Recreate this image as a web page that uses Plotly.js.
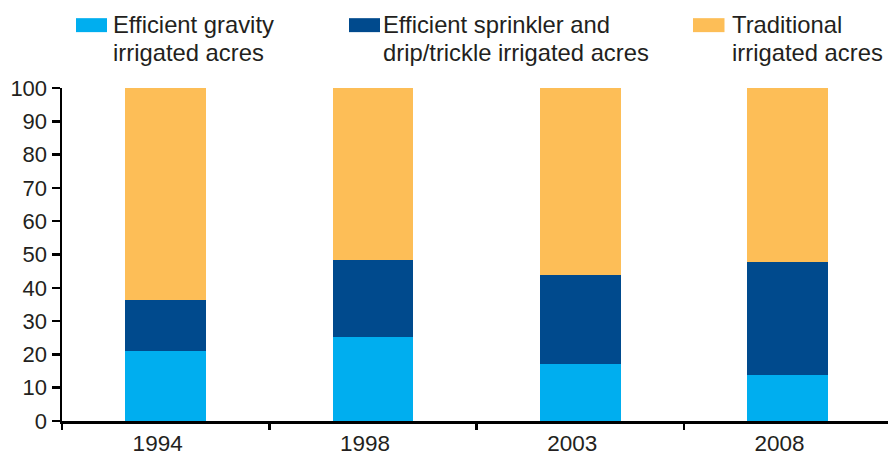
<!DOCTYPE html>
<html>
<head>
<meta charset="utf-8">
<script src="https://cdn.plot.ly/plotly-3.0.1.min.js"></script>
<style>
  html, body { margin: 0; padding: 0; background: #ffffff; }
  #chart { width: 888px; height: 454px; }
</style>
</head>
<body>
<div id="chart"></div>
<script>
// ---- Data ----
const years = ['1994', '1998', '2003', '2008'];
const gravity = [21.1, 25.3, 17.0, 13.9];          // Efficient gravity irrigated acres (%)
const sprinkler = [15.3, 23.1, 26.7, 33.9];        // Efficient sprinkler and drip/trickle irrigated acres (%)
const traditional = [63.6, 51.6, 56.3, 52.2];      // Traditional irrigated acres (%)
const seriesNames = [
  ['Efficient gravity', 'irrigated acres'],
  ['Efficient sprinkler and', 'drip/trickle irrigated acres'],
  ['Traditional', 'irrigated acres']
];
const yTicks = [0, 10, 20, 30, 40, 50, 60, 70, 80, 90, 100];

// ---- Styles ----
const colors = ['#00aeef', '#004a8d', '#fdbe57'];
const textColor = '#231f20';
const fontFamily = 'Liberation Sans, Arial, Helvetica, sans-serif';

const W = 888, H = 454;
const mL = 62, mR = 0, mT = 87.5, mB = 32.7;
const plotW = W - mL - mR, plotH = H - mT - mB;
const px2x = p => (p - mL) / plotW;
const py2y = p => (H - mB - p) / plotH;

const values = [gravity, sprinkler, traditional];
const traces = values.map((v, i) => ({
  type: 'bar',
  x: years,
  y: v,
  name: seriesNames[i].join(' '),
  marker: { color: colors[i], line: { width: 0 } },
  width: 0.39,
  hoverinfo: 'x+y+name'
}));

// custom legend (swatch + two text lines)
const swatchX = [[76, 107], [349, 380], [693, 724.5]];
const textX = [111.5, 382, 731];
const shapes = swatchX.map((sx, i) => ({
  type: 'rect', xref: 'paper', yref: 'paper',
  x0: px2x(sx[0]), x1: px2x(sx[1]),
  y0: py2y(31.5), y1: py2y(17.5),
  fillcolor: colors[i], line: { width: 0 }, layer: 'above'
}));
const annotations = [];
seriesNames.forEach((lines, i) => {
  lines.forEach((t, j) => {
    annotations.push({
      xref: 'paper', yref: 'paper',
      x: px2x(textX[i]), y: py2y(j === 0 ? 24 : 52.3),
      xanchor: 'left', yanchor: 'middle',
      text: t, showarrow: false,
      font: { family: fontFamily, size: 23.8, color: textColor },
      borderpad: 0
    });
  });
});

const layout = {
  width: W, height: H,
  margin: { l: mL, r: mR, t: mT, b: mB, pad: 0 },
  paper_bgcolor: '#ffffff', plot_bgcolor: '#ffffff',
  barmode: 'stack',
  showlegend: false,
  font: { family: fontFamily, size: 22, color: textColor },
  xaxis: {
    type: 'category',
    range: [-0.5, -0.5 + plotW / 207.3],
    showline: true, linecolor: '#000000', linewidth: 2.5,
    ticks: 'outside', tickson: 'boundaries', ticklen: 6, tickwidth: 2.5, tickcolor: '#000000',
    ticklabelshift: -8,
    showgrid: false, zeroline: false,
    tickfont: { family: fontFamily, size: 22.5, color: textColor },
    fixedrange: true
  },
  yaxis: {
    range: [0, 100],
    tickmode: 'array', tickvals: yTicks, ticktext: yTicks.map(String),
    showline: true, linecolor: '#000000', linewidth: 2.5,
    ticks: 'outside', ticklen: 8, tickwidth: 2.5, tickcolor: '#000000',
    showgrid: false, zeroline: false,
    tickfont: { family: fontFamily, size: 22, color: textColor },
    fixedrange: true
  },
  shapes: shapes,
  annotations: annotations
};

Plotly.newPlot('chart', traces, layout, { displayModeBar: false, staticPlot: true });
</script>
</body>
</html>
